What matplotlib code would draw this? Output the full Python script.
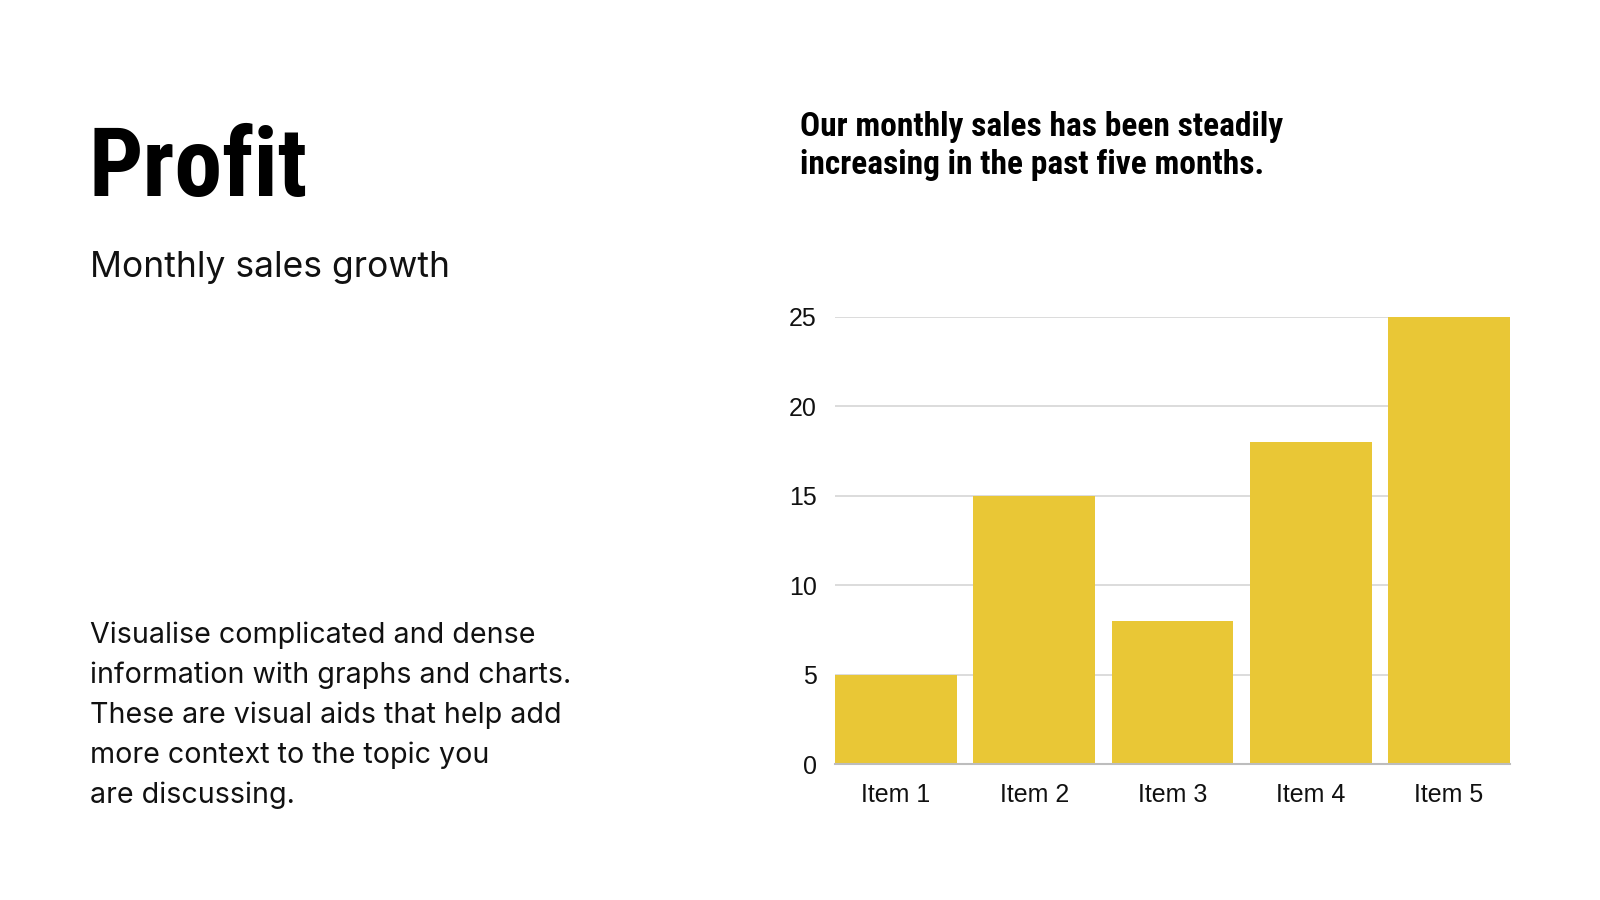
import numpy as np
import matplotlib.pyplot as plt

# данные
items = ['Item 1', 'Item 2', 'Item 3', 'Item 4', 'Item 5']
sales = [5, 15, 8, 18, 25]
yticks = [0, 5, 10, 15, 20, 25]

title = 'Profit'
subtitle = 'Monthly sales growth'
headline = ['Our monthly sales has been steadily',
            'increasing in the past five months.']
body = ['Visualise complicated and dense',
        'information with graphs and charts.',
        'These are visual aids that help add',
        'more context to the topic you',
        'are discussing.']

W, H = 1600, 900
narrow = ['Roboto Condensed', 'DejaVu Sans']
plain = ['Inter', 'DejaVu Sans']

fig = plt.figure(figsize=(16, 9), dpi=100)
fig.patch.set_facecolor('white')

# левая часть - тексты
fig.text(88 / W, 1 - 196 / H, title, family=narrow, fontweight='bold',
         fontsize=69, va='baseline', ha='left', color='black')
fig.text(90 / W, 1 - 277 / H, subtitle, family=plain, fontsize=25.5,
         va='baseline', ha='left', color='#111111')
for i, line in enumerate(body):
    fig.text(90 / W, 1 - (643 + 40 * i) / H, line, family=plain, fontsize=20.6,
             va='baseline', ha='left', color='#111111')

# заголовок справа
for i, line in enumerate(headline):
    fig.text(800 / W, 1 - (136 + 38 * i) / H, line, family=narrow,
             fontweight='bold', fontsize=24, va='baseline', ha='left',
             color='black')

# график
ax = fig.add_axes([835 / W, 1 - 764 / H, 675 / W, 447 / H])
x = np.arange(len(items))
bw = 0.882
ax.bar(x, sales, width=bw, color='#E9C736', zorder=2)
ax.set_xlim(-bw / 2, len(items) - 1 + bw / 2)
ax.set_ylim(0, 25)
ax.set_yticks(yticks)
ax.set_xticks(x)
ax.set_xticklabels(items)
ax.grid(axis='y', color='#d9d9d9', linewidth=1.3, zorder=0)
ax.set_axisbelow(True)
for s in ['top', 'right', 'left']:
    ax.spines[s].set_visible(False)
ax.spines['bottom'].set_color('#bdbdbd')
ax.spines['bottom'].set_linewidth(1.5)
ax.spines['bottom'].set_zorder(3)
ax.tick_params(axis='both', length=0, labelsize=18, labelcolor='#111111')
ax.tick_params(axis='y', pad=13)
ax.tick_params(axis='x', pad=14)
for lab in ax.get_xticklabels() + ax.get_yticklabels():
    lab.set_family(['Liberation Sans', 'DejaVu Sans'])

fig.savefig('out.png', dpi=100, facecolor='white')
